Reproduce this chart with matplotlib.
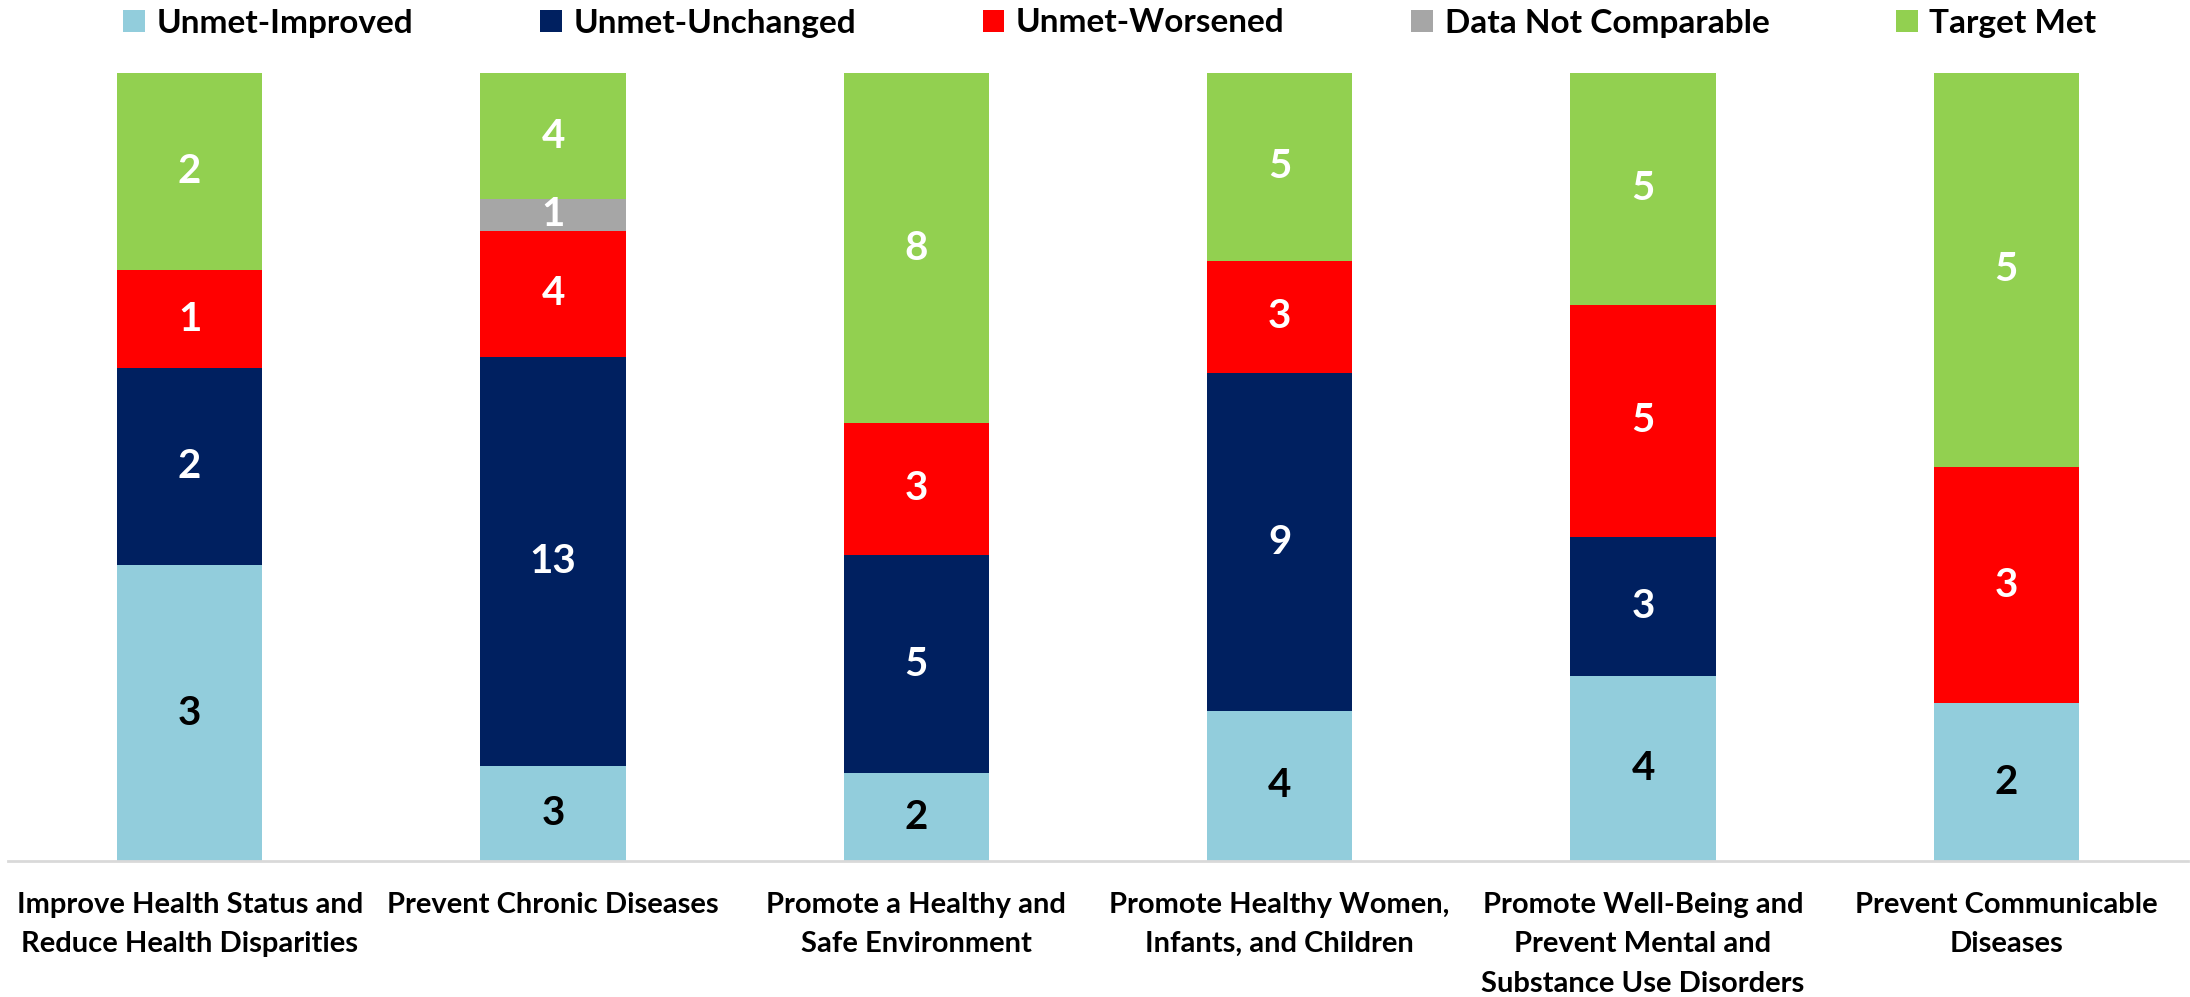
import numpy as np
import matplotlib
matplotlib.use('Agg')
import matplotlib.pyplot as plt

plt.rcParams['font.family'] = ['Lato', 'DejaVu Sans']
plt.rcParams['font.weight'] = 'bold'

# categories and counts per status
categories = [
    'Improve Health Status and\nReduce Health Disparities',
    'Prevent Chronic Diseases',
    'Promote a Healthy and\nSafe Environment',
    'Promote Healthy Women,\nInfants, and Children',
    'Promote Well-Being and\nPrevent Mental and\nSubstance Use Disorders',
    'Prevent Communicable\nDiseases',
]
unmet_improved = [3, 3, 2, 4, 4, 2]
unmet_unchanged = [2, 13, 5, 9, 3, 0]
unmet_worsened = [1, 4, 3, 3, 5, 3]
not_comparable = [0, 1, 0, 0, 0, 0]
target_met = [2, 4, 8, 5, 5, 5]

series = [
    ('Unmet-Improved', unmet_improved, '#92CDDC', 'black'),
    ('Unmet-Unchanged', unmet_unchanged, '#002060', 'white'),
    ('Unmet-Worsened', unmet_worsened, '#FF0000', 'white'),
    ('Data Not Comparable', not_comparable, '#A6A6A6', 'white'),
    ('Target Met', target_met, '#92D050', 'white'),
]

totals = np.sum([s[1] for s in series], axis=0)
x = np.arange(len(categories))

fig = plt.figure(figsize=(21.9, 9.97), dpi=100)
ax = fig.add_axes([8 / 2190, 1 - 861 / 997, 2180 / 2190, (861 - 73) / 997])

bottom = np.zeros(len(categories))
for name, vals, color, tcolor in series:
    pct = np.array(vals) / totals
    ax.bar(x, pct, 0.4, bottom=bottom, color=color, label=name)
    for i, v in enumerate(vals):
        if v > 0:
            ax.text(x[i], bottom[i] + pct[i] / 2, str(v), ha='center', va='center',
                    color=tcolor, fontsize=29, fontweight='bold')
    bottom += pct

ax.set_xlim(-0.5, 5.5)
ax.set_ylim(0, 1)
ax.set_yticks([])
for s in ['top', 'right', 'left']:
    ax.spines[s].set_visible(False)
ax.spines['bottom'].set_color('#D9D9D9')
ax.spines['bottom'].set_linewidth(2)
ax.set_xticks(x)
ax.set_xticklabels(categories, fontsize=21, fontweight='bold', linespacing=1.65)
ax.tick_params(axis='x', length=0, pad=22)

fig.legend(loc='center', bbox_to_anchor=(1110 / 2190, 1 - 23 / 997), ncol=5,
           frameon=False, fontsize=24, handlelength=0.65, handleheight=0.65,
           handletextpad=0.35, columnspacing=3.8)

fig.savefig('out.png', dpi=100)
